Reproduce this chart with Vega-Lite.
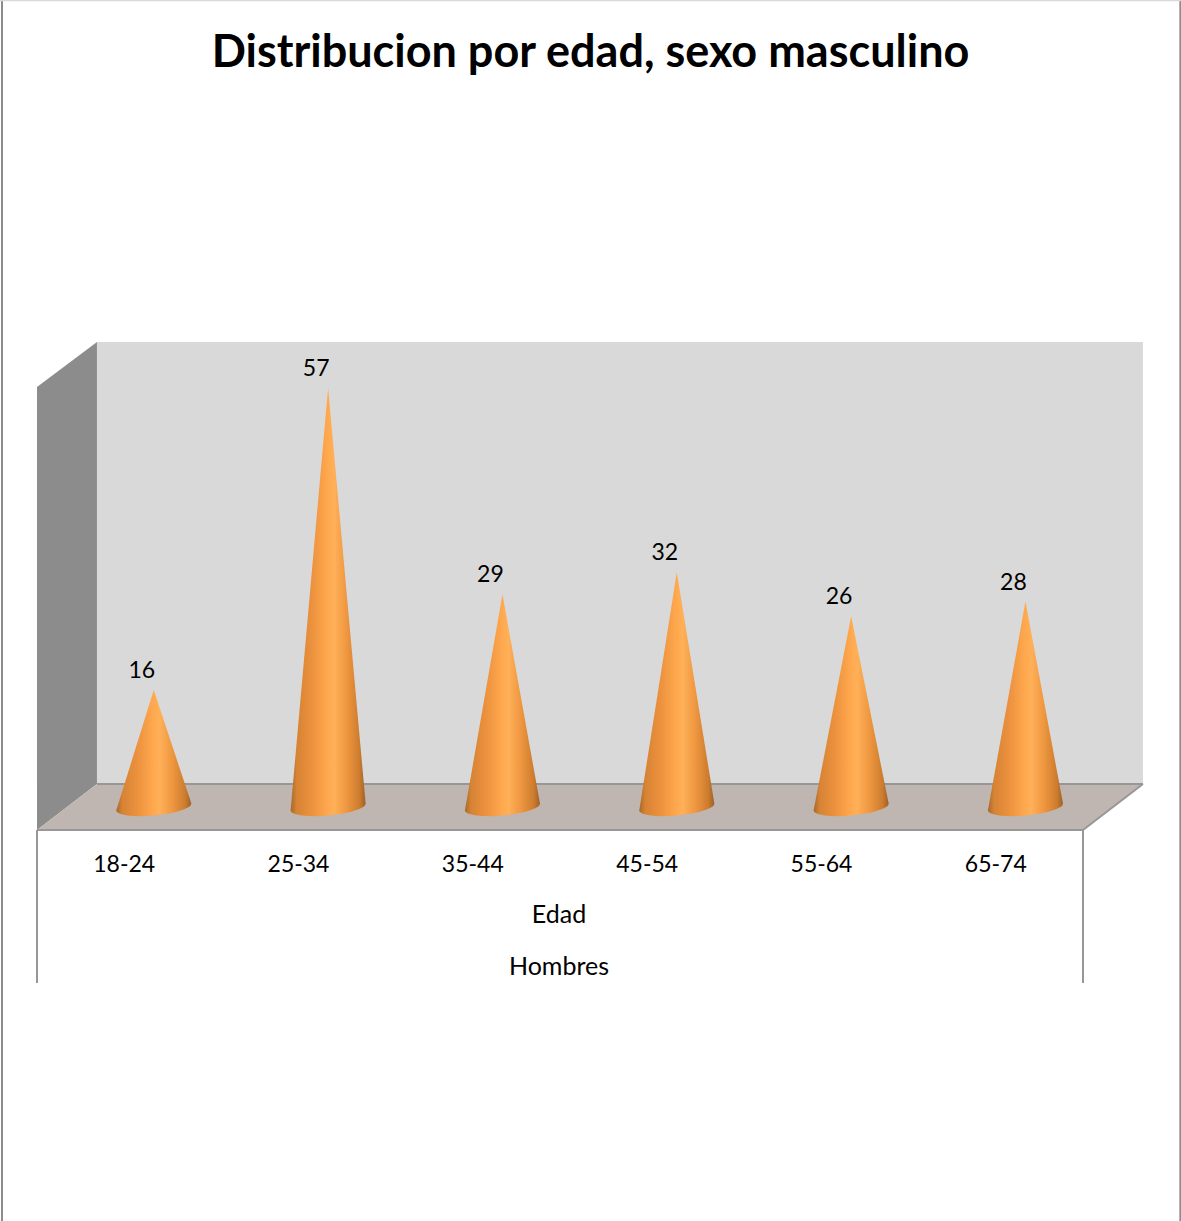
{
  "$schema": "https://vega.github.io/schema/vega-lite/v6.json",
  "width": 1181,
  "height": 1221,
  "padding": 0,
  "autosize": "none",
  "background": "white",
  "config": {"view": {"stroke": null}, "axis": {"disable": true}},
  "title": {
    "text": "Distribucion por edad, sexo masculino",
    "font": "Lato",
    "fontWeight": "bold",
    "fontSize": 45,
    "color": "black",
    "anchor": "middle",
    "baseline": "alphabetic",
    "offset": -113
  },
  "data": {
    "values": [
      {"edad": "18-24", "hombres": 16},
      {"edad": "25-34", "hombres": 57},
      {"edad": "35-44", "hombres": 29},
      {"edad": "45-54", "hombres": 32},
      {"edad": "55-64", "hombres": 26},
      {"edad": "65-74", "hombres": 28}
    ]
  },
  "transform": [
    {"window": [{"op": "row_number", "as": "n"}]},
    {"calculate": "datum.n - 0.5", "as": "columna"},
    {"calculate": "datum.columna + 0.17", "as": "centro"}
  ],
  "layer": [
    {
      "data": {"values": [{}]},
      "mark": {"type": "rect", "fill": "#d9d9d9"},
      "encoding": {
        "x": {"datum": 0.344, "type": "quantitative", "scale": {"domain": [-0.2122, 6.5622], "nice": false, "zero": false}},
        "x2": {"datum": 6.344},
        "y": {"datum": 63.23, "type": "quantitative", "scale": {"domain": [-56.04, 109.63], "nice": false, "zero": false}},
        "y2": {"datum": 3.26}
      }
    },
    {
      "data": {"values": [{"fondo": 0}, {"fondo": 1}]},
      "transform": [
        {"calculate": "datum.fondo * 0.344", "as": "px"},
        {"calculate": "57.12 + datum.fondo * 6.11", "as": "arriba"},
        {"calculate": "-2.99 + datum.fondo * 6.25", "as": "abajo"}
      ],
      "mark": {"type": "area", "fill": "#8c8c8c"},
      "encoding": {
        "x": {"field": "px", "type": "quantitative", "scale": {"domain": [-0.2122, 6.5622], "nice": false, "zero": false}},
        "y": {"field": "arriba", "type": "quantitative", "scale": {"domain": [-56.04, 109.63], "nice": false, "zero": false}},
        "y2": {"field": "abajo"}
      }
    },
    {
      "data": {"values": [{"fondo": 0}, {"fondo": 1}]},
      "transform": [
        {"calculate": "datum.fondo * 0.344", "as": "izq"},
        {"calculate": "6 + datum.fondo * 0.344", "as": "der"},
        {"calculate": "-2.99 + datum.fondo * 6.25", "as": "py"}
      ],
      "mark": {"type": "area", "fill": "#bfb5b1", "orient": "horizontal"},
      "encoding": {
        "y": {"field": "py", "type": "quantitative", "scale": {"domain": [-56.04, 109.63], "nice": false, "zero": false}},
        "x": {"field": "izq", "type": "quantitative", "scale": {"domain": [-0.2122, 6.5622], "nice": false, "zero": false}},
        "x2": {"field": "der"}
      }
    },
    {
      "data": {"values": [
        {"x": 0.344, "x2": 6.344, "y": 3.26, "y2": 3.26},
        {"x": 6, "x2": 6.344, "y": -2.99, "y2": 3.26},
        {"x": 0, "x2": 6, "y": -2.99, "y2": -2.99},
        {"x": 0, "x2": 0, "y": -2.99, "y2": -23.75},
        {"x": 6, "x2": 6, "y": -2.99, "y2": -23.75}
      ]},
      "mark": {"type": "rule", "stroke": "#979797", "strokeWidth": 2},
      "encoding": {
        "x": {"field": "x", "type": "quantitative", "scale": {"domain": [-0.2122, 6.5622], "nice": false, "zero": false}},
        "x2": {"field": "x2"},
        "y": {"field": "y", "type": "quantitative", "scale": {"domain": [-56.04, 109.63], "nice": false, "zero": false}},
        "y2": {"field": "y2"}
      }
    },
    {
      "data": {"values": [
        {"x": -0.2007, "x2": -0.2007, "y": 109.63, "y2": -56.04},
        {"x": 6.5585, "x2": 6.5585, "y": 109.63, "y2": -56.04}
      ]},
      "mark": {"type": "rule", "stroke": "#8c8c8c", "strokeWidth": 2},
      "encoding": {
        "x": {"field": "x", "type": "quantitative", "scale": {"domain": [-0.2122, 6.5622], "nice": false, "zero": false}},
        "x2": {"field": "x2"},
        "y": {"field": "y", "type": "quantitative", "scale": {"domain": [-56.04, 109.63], "nice": false, "zero": false}},
        "y2": {"field": "y2"}
      }
    },
    {
      "data": {"values": [{}]},
      "mark": {"type": "rule", "stroke": "#d9d9d9", "strokeWidth": 2},
      "encoding": {
        "x": {"datum": -0.2122, "type": "quantitative", "scale": {"domain": [-0.2122, 6.5622], "nice": false, "zero": false}},
        "x2": {"datum": 6.5622},
        "y": {"datum": 109.6, "type": "quantitative", "scale": {"domain": [-56.04, 109.63], "nice": false, "zero": false}}
      }
    },
    {
      "mark": {
        "type": "point",
        "filled": true,
        "opacity": 1,
        "size": 5625,
        "shape": "M -1 0.09 A 1 0.22 -5.4 1 0 1 -0.09 A 1 0.22 -5.4 1 0 -1 0.09 Z",
        "fill": {
          "x1": 0, "y1": 0, "x2": 1, "y2": 0, "gradient": "linear",
          "stops": [
            {"offset": 0, "color": "#a8682c"},
            {"offset": 0.08, "color": "#d68334"},
            {"offset": 0.3, "color": "#ee933f"},
            {"offset": 0.5, "color": "#ffa94f"},
            {"offset": 0.58, "color": "#ffb058"},
            {"offset": 0.75, "color": "#ee9640"},
            {"offset": 0.92, "color": "#cc7c2e"},
            {"offset": 1, "color": "#9c6128"}
          ]
        }
      },
      "encoding": {
        "x": {"field": "centro", "type": "quantitative", "scale": {"domain": [-0.2122, 6.5622], "nice": false, "zero": false}},
        "y": {"datum": 0.1, "type": "quantitative", "scale": {"domain": [-56.04, 109.63], "nice": false, "zero": false}}
      }
    },
    {
      "transform": [
        {"calculate": "[-1, 0, 1]", "as": "perfil"},
        {"flatten": ["perfil"]},
        {"calculate": "datum.centro + datum.perfil * 0.215", "as": "px"},
        {"calculate": "datum.perfil == 0 ? datum.hombres : datum.perfil * 0.47 + 0.17", "as": "py"},
        {"calculate": "datum.perfil == 0 ? 0 : datum.py", "as": "py2"}
      ],
      "mark": {
        "type": "area",
        "fill": {
          "x1": 0, "y1": 0, "x2": 1, "y2": 0, "gradient": "linear",
          "stops": [
            {"offset": 0, "color": "#a8682c"},
            {"offset": 0.08, "color": "#d68334"},
            {"offset": 0.3, "color": "#ee933f"},
            {"offset": 0.5, "color": "#ffa94f"},
            {"offset": 0.58, "color": "#ffb058"},
            {"offset": 0.75, "color": "#ee9640"},
            {"offset": 0.92, "color": "#cc7c2e"},
            {"offset": 1, "color": "#9c6128"}
          ]
        }
      },
      "encoding": {
        "x": {"field": "px", "type": "quantitative", "scale": {"domain": [-0.2122, 6.5622], "nice": false, "zero": false}},
        "y": {"field": "py", "type": "quantitative", "scale": {"domain": [-56.04, 109.63], "nice": false, "zero": false}},
        "y2": {"field": "py2"},
        "detail": {"field": "edad"}
      }
    },
    {
      "mark": {"type": "text", "font": "Lato", "fontSize": 23, "color": "black", "dx": -12, "dy": -19, "baseline": "middle"},
      "encoding": {
        "x": {"field": "centro", "type": "quantitative", "scale": {"domain": [-0.2122, 6.5622], "nice": false, "zero": false}},
        "y": {"field": "hombres", "type": "quantitative", "scale": {"domain": [-56.04, 109.63], "nice": false, "zero": false}},
        "text": {"field": "hombres"}
      }
    },
    {
      "mark": {"type": "text", "font": "Lato", "fontSize": 23, "color": "black", "baseline": "middle"},
      "encoding": {
        "x": {"field": "columna", "type": "quantitative", "scale": {"domain": [-0.2122, 6.5622], "nice": false, "zero": false}},
        "y": {"datum": -7.7, "type": "quantitative", "scale": {"domain": [-56.04, 109.63], "nice": false, "zero": false}},
        "text": {"field": "edad"}
      }
    },
    {
      "data": {"values": [{"etiqueta": "Edad", "nivel": -14.5}, {"etiqueta": "Hombres", "nivel": -21.55}]},
      "mark": {"type": "text", "font": "Lato", "fontSize": 25, "color": "black", "baseline": "middle", "dx": -1},
      "encoding": {
        "x": {"datum": 3, "type": "quantitative", "scale": {"domain": [-0.2122, 6.5622], "nice": false, "zero": false}},
        "y": {"field": "nivel", "type": "quantitative", "scale": {"domain": [-56.04, 109.63], "nice": false, "zero": false}},
        "text": {"field": "etiqueta"}
      }
    }
  ]
}
